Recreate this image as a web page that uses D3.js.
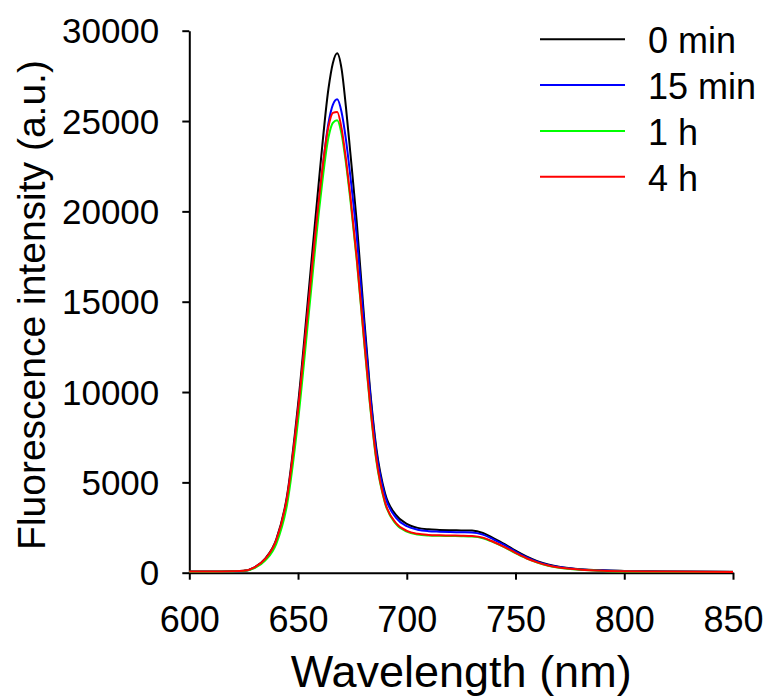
<!DOCTYPE html>
<html>
<head>
<meta charset="utf-8">
<script src="https://d3js.org/d3.v7.min.js"></script>
<style>
  body { margin: 0; background: #fff; }
  text { font-family: "Liberation Sans", Arial, sans-serif; fill: #000; }
</style>
</head>
<body>
<div id="chart"></div>
<script>
// wavelength grid (nm)
var wavelengths = [600, 610, 620, 625, 630, 635, 640, 645, 650, 655, 660, 664, 666, 668, 670, 672, 674, 677, 680, 683, 686, 690, 695, 700, 705, 710, 715, 720, 725, 730, 735, 740, 745, 750, 755, 760, 765, 770, 780, 790, 800, 820, 850];

// intensities
var min0 = [60, 60, 80, 110, 300, 800, 1850, 4300, 9300, 15700, 22200, 26800, 28200, 28750, 27900, 25800, 23300, 19400, 14700, 10300, 6900, 4400, 3200, 2700, 2480, 2400, 2370, 2350, 2340, 2330, 2200, 1900, 1580, 1220, 900, 640, 450, 330, 190, 130, 100, 70, 50];
var min15 = [50, 50, 70, 100, 280, 750, 1750, 4100, 8900, 15000, 21000, 24900, 25900, 26200, 25500, 24000, 22000, 18600, 14300, 10100, 6700, 4250, 3050, 2580, 2380, 2300, 2270, 2250, 2240, 2230, 2110, 1830, 1520, 1170, 860, 610, 430, 310, 180, 120, 90, 60, 40];
var h1 = [50, 50, 60, 90, 250, 680, 1600, 3800, 8400, 14400, 20400, 24100, 24900, 25050, 24300, 22700, 20700, 17300, 13300, 9400, 6200, 3850, 2700, 2280, 2120, 2060, 2040, 2030, 2020, 2000, 1910, 1680, 1400, 1080, 790, 560, 390, 280, 160, 100, 70, 50, 40];
var h4 = [60, 60, 80, 110, 300, 780, 1800, 4200, 9000, 15100, 21100, 24700, 25450, 25500, 24600, 22900, 20900, 17400, 13400, 9500, 6300, 3900, 2750, 2320, 2150, 2090, 2070, 2060, 2050, 2030, 1940, 1700, 1420, 1100, 800, 570, 400, 290, 170, 110, 80, 60, 40];

var seriesNames = ['0 min', '15 min', '1 h', '4 h'];
var seriesColors = ['#000000', '#0000ff', '#00ff00', '#ff0000'];
var seriesValues = [min0, min15, h1, h4];

var xTicks = [600, 650, 700, 750, 800, 850];
var yTicks = [0, 5000, 10000, 15000, 20000, 25000, 30000];

var width = 768,
  height = 698;

var svg = d3.select('#chart')
  .append('svg')
  .attr('width', width)
  .attr('height', height)

var x = d3.scaleLinear()
  .domain([600, 850])
  .range([189.3, 733]);

var y = d3.scaleLinear()
  .domain([0, 30000])
  .range([572.7, 30.7]);

// x axis
var gx = svg.append('g')
  .attr('transform', 'translate(0,' + y(0) + ')')
  .call(d3.axisBottom(x)
    .tickValues(xTicks)
    .tickSize(7)
    .tickSizeOuter(0)
    .tickFormat(d3.format('d')))

gx.selectAll('text')
  .attr('y', 59)
  .attr('dy', null)
  .style('font-size', '36px')

// y axis
var gy = svg.append('g')
  .attr('transform', 'translate(' + x(600) + ',0)')
  .call(d3.axisLeft(y)
    .tickValues(yTicks)
    .tickSize(7)
    .tickSizeOuter(0)
    .tickPadding(23)
    .tickFormat(d3.format('d')))

gy.selectAll('text')
  .attr('dy', '0.35em')
  .style('font-size', '35px')

svg.selectAll('.domain, .tick line')
  .attr('stroke', '#000')
  .attr('stroke-width', 2)

// curves
var line = d3.line()
  .x(function (d, i) {
    return x(wavelengths[i]);
  })
  .y(function (d) {
    return y(d);
  })
  .curve(d3.curveMonotoneX);

svg.selectAll('.spectrum')
  .data(seriesValues)
  .enter()
  .append('path')
  .attr('class', 'spectrum')
  .attr('fill', 'none')
  .attr('stroke', function (d, i) {
    return seriesColors[i];
  })
  .attr('stroke-width', 2)
  .attr('d', line)

// legend
var legend = svg.append('g')
  .attr('transform', 'translate(540,39.3)')

var item = legend.selectAll('.item')
  .data(seriesNames)
  .enter()
  .append('g')
  .attr('class', 'item')
  .attr('transform', function (d, i) {
    return 'translate(0,' + (i * 45.8) + ')';
  })

item.append('line')
  .attr('x1', 0)
  .attr('x2', 85)
  .attr('stroke', function (d, i) {
    return seriesColors[i];
  })
  .attr('stroke-width', 2)

item.append('text')
  .attr('x', 108)
  .attr('y', 14)
  .style('font-size', '36px')
  .text(function (d) {
    return d;
  })

// axis titles
svg.append('text')
  .attr('x', (x(600) + x(850)) / 2)
  .attr('y', 687)
  .attr('text-anchor', 'middle')
  .style('font-size', '45px')
  .text('Wavelength (nm)')

svg.append('text')
  .attr('transform', 'translate(45,305) rotate(-90)')
  .attr('text-anchor', 'middle')
  .style('font-size', '39px')
  .text('Fluorescence intensity (a.u.)')
</script>
</body>
</html>
